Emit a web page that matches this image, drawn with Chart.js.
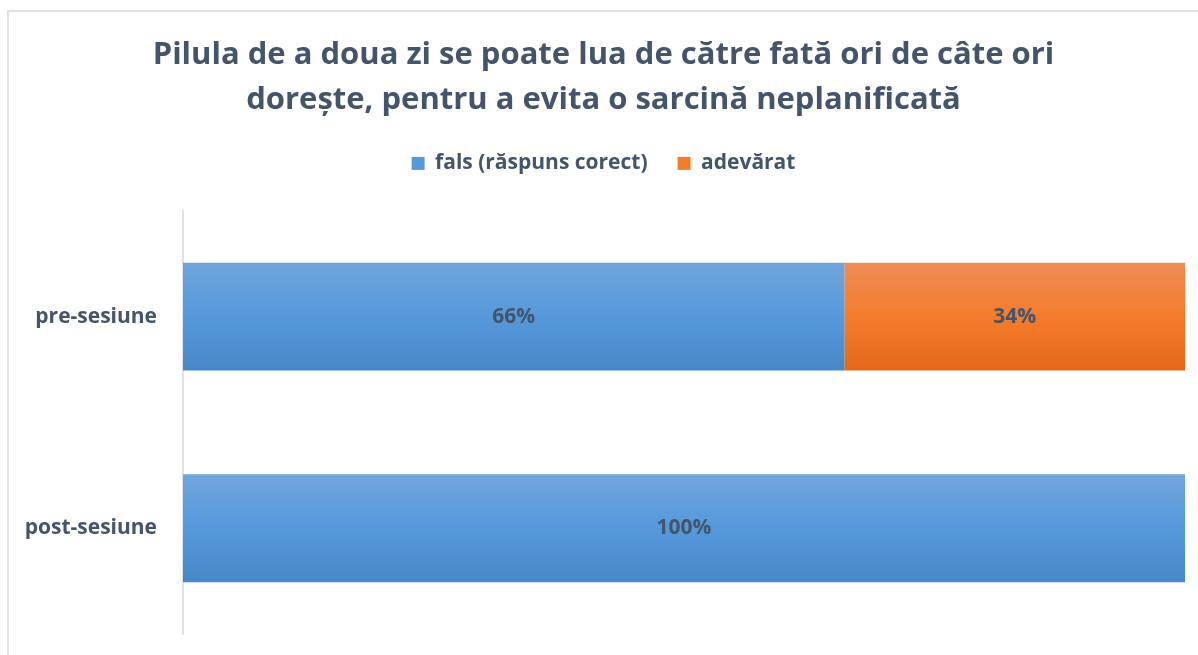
<!DOCTYPE html>
<html>
<head>
<meta charset="utf-8">
<script src="https://cdn.jsdelivr.net/npm/chart.js@4"></script>
<style>
  html, body { margin: 0; padding: 0; background: #fff; overflow: hidden; }
  #frame { position: absolute; left: 7px; top: 10px; width: 1300px; height: 800px; border-left: 2px solid #DEE3EA; border-top: 2px solid #DEE3EA; }
  #wrap { position: absolute; left: 0; top: 0; width: 1198px; height: 655px; }
</style>
</head>
<body>
<div id="frame"></div>
<div id="wrap"><canvas id="myChart" width="1198" height="655"></canvas></div>
<script>
const categories = ['pre-sesiune', 'post-sesiune'];
const seriesNames = ['fals (răspuns corect)', 'adevărat'];
const falsValues = [66, 100];
const adevaratValues = [34, 0];
const tickValues = [0, 20, 40, 60, 80, 100];

const textColor = '#44546A';
const fontFamily = '"Open Sans", Lato, sans-serif';

// culori gradient: sus, mijloc, jos
const blueStops = ['#70A5DC', '#5699DB', '#4787C7'];
const orangeStops = ['#EF8C56', '#F47C2B', '#E3691A'];

function barGradient(context, stops) {
  const chart = context.chart;
  const y = chart.scales.y;
  if (context.type !== 'data' || !y || !chart.chartArea) return stops[1];
  const center = y.getPixelForValue(context.dataIndex);
  const half = (y.height / categories.length) * 0.51 / 2;
  const g = chart.ctx.createLinearGradient(0, center - half, 0, center + half);
  g.addColorStop(0, stops[0]);
  g.addColorStop(0.5, stops[1]);
  g.addColorStop(1, stops[2]);
  return g;
}

// etichete in mijlocul barelor
const barLabels = {
  id: 'barLabels',
  afterDatasetsDraw(chart) {
    const ctx = chart.ctx;
    ctx.save();
    ctx.font = 'bold 21px ' + fontFamily;
    ctx.fillStyle = textColor;
    ctx.textAlign = 'center';
    ctx.textBaseline = 'middle';
    chart.data.datasets.forEach((ds, i) => {
      chart.getDatasetMeta(i).data.forEach((bar, j) => {
        const v = ds.data[j];
        if (!v) return;
        ctx.fillText(v + '%', (bar.x + bar.base) / 2, bar.y);
      });
    });
    ctx.restore();
  }
};

const ctx = document.getElementById('myChart');
new Chart(ctx, {
  type: 'bar',
  data: {
    labels: categories,
    datasets: [{
      label: seriesNames[0],
      data: falsValues,
      backgroundColor: (c) => barGradient(c, blueStops),
      legendColor: blueStops[1]
    }, {
      label: seriesNames[1],
      data: adevaratValues,
      backgroundColor: (c) => barGradient(c, orangeStops),
      legendColor: orangeStops[1]
    }]
  },
  options: {
    indexAxis: 'y',
    responsive: false,
    animation: false,
    barPercentage: 0.51,
    categoryPercentage: 1,
    layout: { padding: { left: 22, right: 13, bottom: 21, top: 0 } },
    plugins: {
      title: {
        display: true,
        text: ['Pilula de a doua zi se poate lua de către fată ori de câte ori', 'dorește, pentru a evita o sarcină neplanificată'],
        color: textColor,
        font: { family: fontFamily, size: 31, weight: 'bold', lineHeight: 1.45 },
        padding: { top: 33, bottom: 0 }
      },
      legend: {
        display: true,
        labels: {
          color: textColor,
          font: { family: fontFamily, size: 21, weight: 'bold' },
          boxWidth: 13,
          boxHeight: 13,
          padding: 30,
          generateLabels(chart) {
            return chart.data.datasets.map((ds, i) => ({
              text: ds.label,
              fillStyle: ds.legendColor,
              strokeStyle: ds.legendColor,
              lineWidth: 0,
              fontColor: textColor,
              datasetIndex: i
            }));
          }
        }
      },
      tooltip: { enabled: false }
    },
    scales: {
      x: {
        stacked: true,
        position: 'top',
        min: 0,
        max: 100,
        grid: { display: false, drawTicks: false },
        border: { display: false },
        ticks: { display: false },
        afterBuildTicks(scale) { scale.ticks = tickValues.map(v => ({ value: v })); },
        afterFit(scale) { scale.height = 27; }
      },
      y: {
        stacked: true,
        grid: { display: false, drawTicks: false },
        border: { display: true, color: '#DCE2EA', width: 2 },
        ticks: {
          color: textColor,
          font: { family: fontFamily, size: 21, weight: 'bold' },
          padding: 26
        },
        afterFit(scale) {
          scale.width = 161;
          scale.paddingTop = 0;
          scale.paddingBottom = 0;
        }
      }
    }
  },
  plugins: [barLabels]
});
</script>
</body>
</html>
